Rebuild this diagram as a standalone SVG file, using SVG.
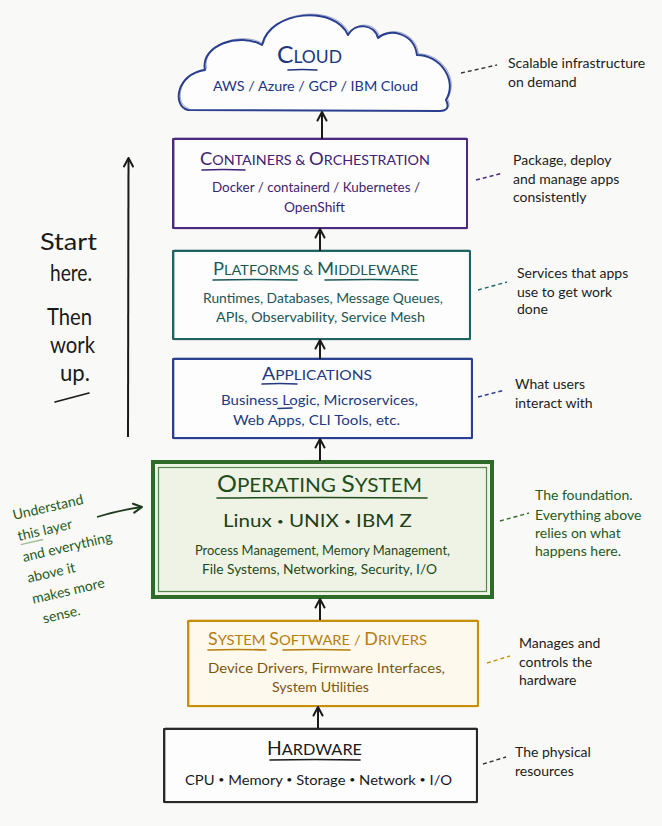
<svg xmlns="http://www.w3.org/2000/svg" width="662" height="826" viewBox="0 0 662 826">
<defs>
<style>
text{font-family:Lato,"Open Sans","DejaVu Sans",sans-serif}
.body{font-size:14px}
.note{font-size:14px;fill:#1c1c1c}
.box{stroke-width:2;stroke-linejoin:round}
.ghost{fill:none;stroke-width:1;opacity:.45}
.ul{fill:none;stroke-width:1.6;stroke-linecap:round}
.dash{fill:none;stroke-width:1.4;stroke-dasharray:4 3}
.arr{fill:none;stroke:#1a1a1a;stroke-width:2;marker-end:url(#ah)}
.dot{font-size:10px}
</style>
<marker id="ah" viewBox="0 0 12 12" refX="10.5" refY="6" markerWidth="12" markerHeight="12" markerUnits="userSpaceOnUse" orient="auto">
<path d="M2,1.5 L10.5,6 L2,10.5" fill="none" stroke="#1a1a1a" stroke-width="2" stroke-linecap="round" stroke-linejoin="round"/>
</marker>
<marker id="ahg" viewBox="0 0 12 12" refX="10.5" refY="6" markerWidth="12" markerHeight="12" markerUnits="userSpaceOnUse" orient="auto">
<path d="M2,1.5 L10.5,6 L2,10.5" fill="none" stroke="#1d3a1c" stroke-width="2" stroke-linecap="round" stroke-linejoin="round"/>
</marker>
</defs>
<rect width="662" height="826" fill="#f9f9f7"/>

<g id="cloud">
<path class="box" d="M188,110 C172,106 176,74 205,70 C200,45 240,32 262,45 C270,10 335,5 348,35 C355,22 375,24 378,38 C388,28 414,32 417,55 C440,55 458,80 446,100 C450,108 446,111 440,111 Z" fill="#fdfdfd" stroke="#2a3f8f"/>
<path class="ghost" transform="translate(1.5,-1.2)" d="M188,110 C172,106 176,74 205,70 C200,45 240,32 262,45 C270,10 335,5 348,35 C355,22 375,24 378,38 C388,28 414,32 417,55 C440,55 458,80 446,100 C450,108 446,111 440,111" stroke="#2a3f8f"/>
<text x="309.5" y="63" text-anchor="middle" fill="#22357f" textLength="65" lengthAdjust="spacingAndGlyphs"><tspan font-size="24">C</tspan><tspan font-size="17">LOUD</tspan></text>
<path class="ul" d="M288,70 Q302,69 317,70" stroke="#22357f"/>
<text class="body" x="315.5" y="91" text-anchor="middle" fill="#22357f" font-size="15" textLength="205" lengthAdjust="spacingAndGlyphs">AWS / Azure / GCP / IBM Cloud</text>
</g>

<g id="containers">
<rect class="box" x="173" y="139" width="294" height="89" fill="#fdfdfd" stroke="#4b2a80"/>
<rect class="ghost" x="174.5" y="137.8" width="292" height="91" stroke="#4b2a80"/>
<text x="315" y="165" text-anchor="middle" fill="#3f2272" textLength="230" lengthAdjust="spacingAndGlyphs"><tspan font-size="18">C</tspan><tspan font-size="14">ONTAINERS &amp; </tspan><tspan font-size="18">O</tspan><tspan font-size="14">RCHESTRATION</tspan></text>
<path class="ul" d="M202,170 Q224,169 245,170" stroke="#3f2272"/>
<text class="body" x="316" y="192" text-anchor="middle" fill="#3d2470" textLength="208" lengthAdjust="spacingAndGlyphs">Docker / containerd / Kubernetes /</text>
<text class="body" x="314.5" y="212" text-anchor="middle" fill="#3d2470" textLength="61" lengthAdjust="spacingAndGlyphs">OpenShift</text>
</g>

<g id="platforms">
<rect class="box" x="173" y="251" width="297" height="88" fill="#fdfdfd" stroke="#1e6464"/>
<rect class="ghost" x="174.3" y="249.8" width="295" height="90" stroke="#1e6464"/>
<text x="315.5" y="275" text-anchor="middle" fill="#1a5858" textLength="205" lengthAdjust="spacingAndGlyphs"><tspan font-size="17">P</tspan><tspan font-size="13.5">LATFORMS &amp; </tspan><tspan font-size="17">M</tspan><tspan font-size="13.5">IDDLEWARE</tspan></text>
<path class="ul" d="M213,280 Q255,279 297,280" stroke="#1a5858"/>
<path class="ul" d="M325,280 Q372,279 418,280" stroke="#1a5858"/>
<text class="body" x="323" y="303" text-anchor="middle" fill="#1c5656" textLength="240" lengthAdjust="spacingAndGlyphs">Runtimes, Databases, Message Queues,</text>
<text class="body" x="320.5" y="322" text-anchor="middle" fill="#1c5656" textLength="209" lengthAdjust="spacingAndGlyphs">APIs, Observability, Service Mesh</text>
</g>

<g id="applications">
<rect class="box" x="173" y="359" width="299" height="79" fill="#fdfdfd" stroke="#2b4190"/>
<rect class="ghost" x="174.2" y="357.8" width="297" height="81" stroke="#2b4190"/>
<text x="317" y="380" text-anchor="middle" fill="#24397f" textLength="110" lengthAdjust="spacingAndGlyphs"><tspan font-size="17">A</tspan><tspan font-size="13.5">PPLICATIONS</tspan></text>
<path class="ul" d="M262,384 Q280,383 297,384" stroke="#24397f"/>
<text class="body" x="319.5" y="405" text-anchor="middle" fill="#24397f" textLength="197" lengthAdjust="spacingAndGlyphs">Business Logic, Microservices,</text>
<path class="ul" d="M278,408.5 L292,408" stroke="#24397f" stroke-width="1.1"/>
<text class="body" x="316.5" y="425" text-anchor="middle" fill="#24397f" textLength="167" lengthAdjust="spacingAndGlyphs">Web Apps, CLI Tools, etc.</text>
</g>

<g id="operating-system">
<rect x="153" y="462" width="339" height="135" fill="#eef3e5" stroke="#2f6b28" stroke-width="4"/>
<rect x="158.5" y="467.5" width="328" height="124" fill="none" stroke="#2f6b28" stroke-width="1.2" opacity=".8"/>
<rect class="ghost" x="151.5" y="460.5" width="342" height="138" stroke="#2f6b28"/>
<text x="319.5" y="492" text-anchor="middle" fill="#1f4d1a" textLength="205" lengthAdjust="spacingAndGlyphs"><tspan font-size="24">O</tspan><tspan font-size="20">PERATING </tspan><tspan font-size="24">S</tspan><tspan font-size="20">YSTEM</tspan></text>
<path class="ul" d="M217,498 Q322,497 427,498" stroke="#1f4d1a" stroke-width="1.8"/>
<text x="317.5" y="527" text-anchor="middle" fill="#1f3f1a" font-size="18" textLength="189" lengthAdjust="spacingAndGlyphs">Linux <tspan class="dot" dy="-2.5">•</tspan><tspan dy="2.5"> UNIX </tspan><tspan class="dot" dy="-2.5">•</tspan><tspan dy="2.5"> IBM Z</tspan></text>
<text class="body" x="322.5" y="555" text-anchor="middle" fill="#1e4a1a" textLength="255" lengthAdjust="spacingAndGlyphs">Process Management, Memory Management,</text>
<text class="body" x="319.5" y="574" text-anchor="middle" fill="#1e4a1a" textLength="235" lengthAdjust="spacingAndGlyphs">File Systems, Networking, Security, I/O</text>
</g>

<g id="system-software">
<rect class="box" x="188" y="621" width="290" height="85" fill="#fdf9ec" stroke="#c8900a"/>
<rect class="ghost" x="189.3" y="619.8" width="288" height="87" stroke="#c8900a"/>
<text x="317.5" y="645" text-anchor="middle" fill="#b57d12" textLength="219" lengthAdjust="spacingAndGlyphs"><tspan font-size="17">S</tspan><tspan font-size="14">YSTEM </tspan><tspan font-size="17">S</tspan><tspan font-size="14">OFTWARE / </tspan><tspan font-size="17">D</tspan><tspan font-size="14">RIVERS</tspan></text>
<path class="ul" d="M208,650 Q237,649 266,650" stroke="#b57d12"/>
<path class="ul" d="M283,650 Q316,649 350,650" stroke="#b57d12"/>
<text class="body" x="326.5" y="673" text-anchor="middle" fill="#7d5610" textLength="237" lengthAdjust="spacingAndGlyphs">Device Drivers, Firmware Interfaces,</text>
<text class="body" x="320.5" y="692" text-anchor="middle" fill="#7d5610" textLength="97" lengthAdjust="spacingAndGlyphs">System Utilities</text>
</g>

<g id="hardware">
<rect class="box" x="164" y="729" width="313" height="73" fill="#fdfdfd" stroke="#2a2a2a"/>
<rect class="ghost" x="165.3" y="727.8" width="311" height="75" stroke="#2a2a2a"/>
<text x="314.5" y="755" text-anchor="middle" fill="#1a1a1a" textLength="95" lengthAdjust="spacingAndGlyphs"><tspan font-size="19">H</tspan><tspan font-size="16">ARDWARE</tspan></text>
<path class="ul" d="M270,760 Q315,759 360,760" stroke="#1a1a1a"/>
<text class="body" x="318.5" y="785" text-anchor="middle" fill="#1a1a1a" textLength="267" lengthAdjust="spacingAndGlyphs">CPU <tspan class="dot" dy="-2">•</tspan><tspan dy="2"> Memory </tspan><tspan class="dot" dy="-2">•</tspan><tspan dy="2"> Storage </tspan><tspan class="dot" dy="-2">•</tspan><tspan dy="2"> Network </tspan><tspan class="dot" dy="-2">•</tspan><tspan dy="2"> I/O</tspan></text>
</g>

<g id="connectors">
<path class="arr" d="M322,139 L322,112"/>
<path class="arr" d="M320,251 L320,229"/>
<path class="arr" d="M320,359 L320,340"/>
<path class="arr" d="M320,461 L320,439"/>
<path class="arr" d="M320,620 L320,599"/>
<path class="arr" d="M318,728 L318,707"/>
</g>

<g id="start-here">
<path class="arr" d="M128,437 L128.5,158"/>
<g font-size="23" fill="#1a1a1a" text-anchor="middle">
<text x="68.5" y="250" textLength="57" lengthAdjust="spacingAndGlyphs">Start</text>
<text x="71" y="281" textLength="42" lengthAdjust="spacingAndGlyphs">here.</text>
<text x="69.5" y="325" textLength="45" lengthAdjust="spacingAndGlyphs">Then</text>
<text x="72.5" y="353" textLength="45" lengthAdjust="spacingAndGlyphs">work</text>
<text x="75" y="381" textLength="30" lengthAdjust="spacingAndGlyphs">up.</text>
</g>
<path class="ul" d="M55,402 L89,393" stroke="#1a1a1a"/>
</g>

<g id="os-note-left">
<g transform="translate(14,520) rotate(-13)" fill="#245a22" font-size="14">
<text x="0" y="0">Understand</text>
<text x="0" y="21.5">this layer</text>
<path d="M1,25.5 L24,25.5" stroke="#9dbf91" stroke-width="1.4" fill="none"/>
<text x="0" y="43">and everything</text>
<text x="0" y="64.5">above it</text>
<text x="0" y="86">makes more</text>
<text x="6" y="107.5">sense.</text>
</g>
<path d="M97,517 Q120,510 142,507" fill="none" stroke="#1d3a1c" stroke-width="1.8" marker-end="url(#ahg)"/>
</g>

<g id="notes">
<path class="dash" d="M461,73 L497,65" stroke="#333"/>
<text class="note" x="508" y="68">Scalable infrastructure</text>
<text class="note" x="508" y="87">on demand</text>

<path class="dash" d="M476,180 L503,173" stroke="#4b2a80"/>
<text class="note" x="513" y="165">Package, deploy</text>
<text class="note" x="513" y="184">and manage apps</text>
<text class="note" x="513" y="202">consistently</text>

<path class="dash" d="M478,290 L507,282" stroke="#1e6464"/>
<text class="note" x="517" y="278">Services that apps</text>
<text class="note" x="517" y="297">use to get work</text>
<text class="note" x="517" y="314">done</text>

<path class="dash" d="M478,397 L505,390" stroke="#2b4190"/>
<text class="note" x="515" y="389">What users</text>
<text class="note" x="515" y="408">interact with</text>

<path class="dash" d="M500,521 L529,513" stroke="#2f6b28"/>
<g fill="#245a22" font-size="14">
<text x="535" y="500">The foundation.</text>
<text x="535" y="520">Everything above</text>
<text x="535" y="538">relies on what</text>
<text x="535" y="556">happens here.</text>
</g>

<path class="dash" d="M487,663 L510,656" stroke="#c8900a"/>
<text class="note" x="519" y="648">Manages and</text>
<text class="note" x="519" y="667">controls the</text>
<text class="note" x="519" y="685">hardware</text>

<path class="dash" d="M483,764 L506,757" stroke="#333"/>
<text class="note" x="515" y="757">The physical</text>
<text class="note" x="515" y="776">resources</text>
</g>
</svg>
